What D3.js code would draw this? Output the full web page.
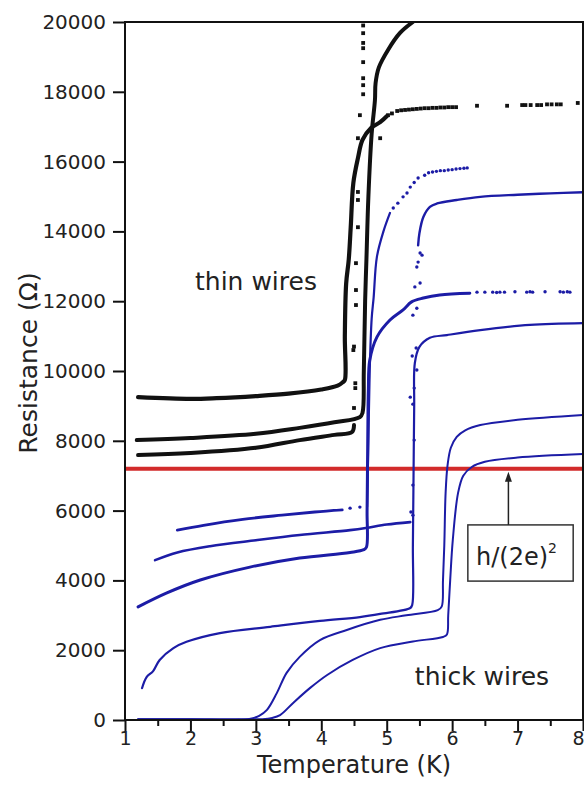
<!DOCTYPE html>
<html>
<head>
<meta charset="utf-8">
<script src="https://cdn.jsdelivr.net/npm/d3@7"></script>
<style>
  body { margin: 0; background: #fff; }
  text { font-family: "DejaVu Sans", sans-serif; fill: #222; }
</style>
</head>
<body>
<div id="chart"></div>
<script>
// Data: [temperature (K), resistance (Ohm)]
// thin wires (black)
var thin1 = [[1.2, 9250], [2.0, 9200], [2.4, 9220], [3.0, 9280], [3.5, 9350], [4.0, 9470], [4.25, 9580], [4.33, 9680],
    [4.36, 9740], [4.36, 11000], [4.38, 12500], [4.42, 13200], [4.45, 14120], [4.49, 15390], [4.56, 16100],
    [4.63, 16620], [4.76, 16960], [4.9, 17130], [5.0, 17300]];
var thin1Dots = [[5.02, 17330], [5.08, 17380], [5.16, 17450], [5.22, 17470], [5.28, 17480], [5.34, 17490], [5.40, 17500],
    [5.46, 17510], [5.52, 17520], [5.58, 17530], [5.64, 17530], [5.70, 17540], [5.76, 17540], [5.82, 17550],
    [5.88, 17550], [5.94, 17560], [6.00, 17560], [6.06, 17560], [6.38, 17600], [6.84, 17600], [7.07, 17620],
    [7.12, 17620], [7.20, 17620], [7.30, 17620], [7.36, 17620], [7.45, 17640], [7.52, 17640], [7.60, 17640],
    [7.66, 17640], [7.92, 17680]];
var thin2 = [[1.18, 8020], [2.0, 8080], [3.0, 8200], [3.67, 8370], [4.2, 8530], [4.59, 8680], [4.63, 8800],
    [4.65, 10000], [4.67, 12000], [4.69, 13200], [4.72, 15000], [4.77, 16800], [4.82, 17760], [4.83, 18250],
    [4.88, 18700], [5.02, 19200], [5.2, 19680], [5.4, 20000]];
var thin3 = [[1.2, 7590], [2.0, 7650], [3.0, 7800], [3.67, 8020], [4.2, 8170], [4.47, 8250], [4.5, 8450]];
var thin3Dots = [[4.5, 8940], [4.52, 9510], [4.52, 9650], [4.49, 10600], [4.5, 10700], [4.53, 11890], [4.53, 12320],
    [4.53, 13090], [4.56, 14120], [4.56, 14900], [4.56, 15130], [4.56, 16670], [4.9, 16670], [4.59, 17330],
    [4.64, 17930], [4.64, 18190], [4.64, 18390], [4.64, 18850], [4.64, 19250], [4.64, 19400], [4.64, 19680],
    [4.64, 19900]];

// thick wires (blue)
var thick1 = [[1.8, 5440], [2.2, 5580], [2.8, 5750], [3.4, 5870], [3.9, 5960], [4.32, 6020]];
var thick1Rise = [[4.7, 6110], [4.72, 8000], [4.74, 10000], [4.77, 11500], [4.8, 12100], [4.85, 13270],
    [4.95, 14000], [5.05, 14530]];
var thick1Dots = [[4.44, 6070], [4.59, 6100], [5.1, 14670], [5.17, 14810], [5.25, 14990], [5.31, 15100], [5.36, 15270],
    [5.42, 15400], [5.48, 15530], [5.58, 15610], [5.64, 15680], [5.70, 15700], [5.76, 15720], [5.82, 15740],
    [5.88, 15740], [5.94, 15760], [6.00, 15770], [6.06, 15790], [6.12, 15800], [6.18, 15810], [6.23, 15820]];
var thick2 = [[1.46, 4580], [1.8, 4800], [2.3, 4980], [3.0, 5150], [3.67, 5300], [4.44, 5440], [4.68, 5500],
    [5.0, 5600], [5.36, 5670]];
var thick2Dots = [[5.4, 5870], [5.37, 5960], [5.4, 6730], [5.42, 8020], [5.4, 9050], [5.36, 9250], [5.42, 9510],
    [5.46, 10030], [5.39, 10430], [5.45, 10660], [5.4, 11600], [5.46, 11800], [5.43, 12410], [5.51, 12520],
    [5.46, 12980], [5.48, 13120], [5.54, 13320], [5.51, 13380]];
var thick2Top = [[5.48, 13600], [5.5, 13950], [5.56, 14410], [5.66, 14700], [5.77, 14800], [6.07, 14900],
    [6.43, 14990], [7.0, 15050], [7.5, 15090], [8.0, 15120]];
var thick3 = [[1.2, 3240], [1.64, 3640], [2.15, 4010], [2.91, 4380], [3.67, 4640], [4.44, 4800], [4.65, 4880],
    [4.69, 4950], [4.7, 6000], [4.71, 8000], [4.72, 9500], [4.74, 10300], [4.85, 10970], [5.05, 11460],
    [5.25, 11750], [5.38, 11980], [5.56, 12090], [5.81, 12180], [6.27, 12230]];
var thick3Dots = [[6.38, 12260], [6.50, 12260], [6.62, 12260], [6.68, 12250], [6.73, 12260], [6.80, 12260],
    [6.96, 12270], [7.14, 12260], [7.19, 12270], [7.23, 12260], [7.42, 12270], [7.65, 12270], [7.70, 12260],
    [7.76, 12270], [7.80, 12260]];
var thick4 = [[1.26, 910], [1.33, 1230], [1.43, 1400], [1.53, 1720], [1.74, 2060], [1.94, 2240], [2.45, 2490],
    [3.22, 2670], [3.98, 2840], [4.59, 2950], [4.9, 3040], [5.36, 3210], [5.39, 3300], [5.4, 5000], [5.41, 7000],
    [5.42, 9000], [5.43, 10230], [5.5, 10690], [5.66, 10950], [5.92, 11030], [6.43, 11170], [7.19, 11320], [8.0, 11370]];
var thick5 = [[1.2, 20], [2.0, 20], [2.9, 30], [3.05, 120], [3.17, 290], [3.32, 770], [3.47, 1350], [3.67, 1810],
    [3.98, 2290], [4.39, 2580], [4.9, 2870], [5.3, 3000], [5.78, 3150], [5.84, 3250], [5.86, 4000], [5.88, 5000],
    [5.9, 6500], [5.93, 7300], [5.98, 7800], [6.07, 8110], [6.2, 8300], [6.43, 8450], [7.0, 8600], [8.0, 8740]];
var thick6 = [[1.2, 20], [2.5, 20], [3.1, 25], [3.25, 60], [3.37, 140], [3.57, 490], [3.83, 920], [4.09, 1290],
    [4.48, 1720], [4.9, 2060], [5.4, 2250], [5.86, 2380], [5.92, 2450], [5.94, 3000], [5.97, 4000], [6.01, 5160],
    [6.09, 6500], [6.17, 7000], [6.3, 7250], [6.5, 7400], [7.0, 7520], [8.0, 7620]];

var quantumR = 7200;
var xTicks = [1, 2, 3, 4, 5, 6, 7, 8];
var xMinorTicks = [1.5, 2.5, 3.5, 4.5, 5.5, 6.5, 7.5];
var yTicks = [0, 2000, 4000, 6000, 8000, 10000, 12000, 14000, 16000, 18000, 20000];

var svgWidth = 584;
var svgHeight = 786;

var margin = {
    top: 22,
    right: 1,
    bottom: 66,
    left: 125
};

var width = svgWidth - margin.left - margin.right;
var height = svgHeight - margin.top - margin.bottom;

var svg = d3.select("#chart")
    .append("svg")
    .attr("width", svgWidth)
    .attr("height", svgHeight);

var chartGroup = svg.append("g")
    .attr("transform", `translate(${margin.left}, ${margin.top})`);

// scales
var xScale = d3.scaleLinear().domain([1, 8]).range([0, width]);
var yScale = d3.scaleLinear().domain([0, 20000]).range([height, 0]);

var line = d3.line()
    .x(d => xScale(d[0]))
    .y(d => yScale(d[1]))
    .curve(d3.curveCatmullRom.alpha(0.5));

var blue = "#1c1ca6";
var black = "#111111";

chartGroup.append("clipPath").attr("id", "plotClip")
    .append("rect").attr("width", width).attr("height", height);

var plot = chartGroup.append("g").attr("clip-path", "url(#plotClip)");

// red h/(2e)^2 line
plot.append("line")
    .attr("x1", 0).attr("x2", width)
    .attr("y1", yScale(quantumR)).attr("y2", yScale(quantumR))
    .attr("stroke", "#d22a2a")
    .attr("stroke-width", 4);

// curves
var solidCurves = [
    { d: thick4, c: blue, w: 2.2 },
    { d: thick5, c: blue, w: 2 },
    { d: thick6, c: blue, w: 2 },
    { d: thick3, c: blue, w: 3 },
    { d: thick2, c: blue, w: 2.6 },
    { d: thick2Top, c: blue, w: 2.4 },
    { d: thick1, c: blue, w: 2.8 },
    { d: thick1Rise, c: blue, w: 2.2 },
    { d: thin3, c: black, w: 4 },
    { d: thin2, c: black, w: 4 },
    { d: thin1, c: black, w: 4.2 }
];

plot.selectAll("path.curve")
    .data(solidCurves)
    .enter()
    .append("path")
    .attr("class", "curve")
    .attr("d", d => line(d.d))
    .attr("fill", "none")
    .attr("stroke", d => d.c)
    .attr("stroke-width", d => d.w)
    .attr("stroke-linejoin", "round")
    .attr("stroke-linecap", "round");

// dotted parts
var blueDots = thick1Dots.concat(thick2Dots, thick3Dots);
plot.selectAll("circle.bdot")
    .data(blueDots)
    .enter()
    .append("circle")
    .attr("class", "bdot")
    .attr("cx", d => xScale(d[0]))
    .attr("cy", d => yScale(d[1]))
    .attr("r", 1.7)
    .attr("fill", blue);

var blackDots = thin1Dots.concat(thin3Dots);
plot.selectAll("rect.kdot")
    .data(blackDots)
    .enter()
    .append("rect")
    .attr("class", "kdot")
    .attr("x", d => xScale(d[0]) - 1.9)
    .attr("y", d => yScale(d[1]) - 1.9)
    .attr("width", 3.8)
    .attr("height", 3.8)
    .attr("fill", black);

// axes
var bottomAxis = d3.axisBottom(xScale).tickValues(xTicks).tickSize(11).tickPadding(1).tickFormat(d3.format("d"));
var bottomMinor = d3.axisBottom(xScale).tickValues(xMinorTicks).tickSize(6).tickFormat("");
var leftAxis = d3.axisLeft(yScale).tickValues(yTicks).tickSize(12).tickPadding(7).tickFormat(d3.format("d"));

var xAxisG = chartGroup.append("g")
    .attr("class", "axisX")
    .attr("transform", `translate(0, ${height})`)
    .call(bottomAxis);
chartGroup.append("g")
    .attr("transform", `translate(0, ${height})`)
    .call(bottomMinor);
var yAxisG = chartGroup.append("g")
    .attr("class", "axisY")
    .call(leftAxis);

chartGroup.selectAll(".domain").remove();
chartGroup.selectAll(".tick line").attr("stroke", "#111").attr("stroke-width", 2);
xAxisG.selectAll("text").attr("font-size", 19).attr("font-family", "DejaVu Sans").attr("fill", "#222");
yAxisG.selectAll("text").attr("font-size", 20).attr("font-family", "DejaVu Sans").attr("fill", "#222");
// last x label sits on the right edge, keep it inside the page
xAxisG.selectAll(".tick text").filter(d => d === 8)
    .attr("text-anchor", "end")
    .attr("x", 1);

// frame
chartGroup.append("rect")
    .attr("width", width)
    .attr("height", height)
    .attr("fill", "none")
    .attr("stroke", "#111")
    .attr("stroke-width", 2);

// labels
chartGroup.append("text")
    .attr("x", xScale(2.07))
    .attr("y", yScale(12320))
    .attr("font-size", 25)
    .text("thin wires");

chartGroup.append("text")
    .attr("x", xScale(5.43))
    .attr("y", yScale(1000))
    .attr("font-size", 25)
    .text("thick wires");

// annotation box with arrow
var boxX0 = xScale(6.24), boxX1 = xScale(7.85);
var boxY0 = yScale(5590), boxY1 = yScale(3980);
chartGroup.append("rect")
    .attr("x", boxX0).attr("y", boxY0)
    .attr("width", boxX1 - boxX0).attr("height", boxY1 - boxY0)
    .attr("fill", "#fff")
    .attr("stroke", "#333")
    .attr("stroke-width", 1.5);

var arrowX = xScale(6.86);
chartGroup.append("line")
    .attr("x1", arrowX).attr("x2", arrowX)
    .attr("y1", boxY0).attr("y2", yScale(quantumR) + 10)
    .attr("stroke", "#222").attr("stroke-width", 1.5);
chartGroup.append("path")
    .attr("d", `M${arrowX},${yScale(quantumR) + 3} l-3.5,10 l7,0 z`)
    .attr("fill", "#222");

var hText = chartGroup.append("text")
    .attr("x", (boxX0 + boxX1) / 2 - 4)
    .attr("y", boxY1 - 16)
    .attr("text-anchor", "middle")
    .attr("font-size", 24);
hText.append("tspan").text("h/(2e)");
hText.append("tspan").attr("font-size", 14).attr("dy", -12).text("2");

// axis titles
svg.append("text")
    .attr("transform", `translate(${margin.left + width / 2}, 773)`)
    .attr("text-anchor", "middle")
    .attr("font-size", 24)
    .text("Temperature (K)");

svg.append("text")
    .attr("transform", "translate(37, 363) rotate(-90)")
    .attr("text-anchor", "middle")
    .attr("font-size", 25)
    .text("Resistance (Ω)");
</script>
</body>
</html>
